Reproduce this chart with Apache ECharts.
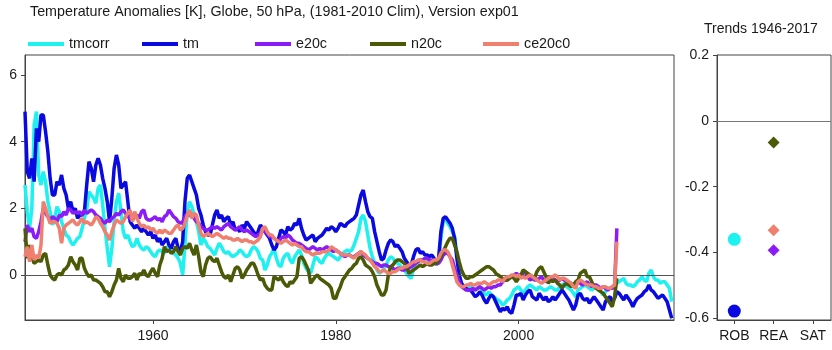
<!DOCTYPE html>
<html>
<head>
<meta charset="utf-8">
<script src="https://cdn.jsdelivr.net/npm/echarts@6/dist/echarts.min.js"></script>
<style>
html,body{margin:0;padding:0;background:#fff;}
#chart{width:832px;height:350px;}
</style>
</head>
<body>
<div id="chart"></div>
<script>
// Quarterly values starting 1946.0, step 0.25 year
const startYear = 1946;
const stepYear = 0.25;

const tmcorr = [
 2.7,1.9,1.4,2.0, 4.5,4.9,3.0,2.7, 3.1,2.8,2.2,1.9, 1.5,1.7,2.05,1.9, 1.6,1.4,1.2,1.15,
 1.0,0.9,1.0,1.1, 1.15,1.4,1.7,1.95, 2.5,2.4,2.3,2.15, 2.6,2.7,2.1,1.4, 0.8,0.25,0.8,1.6,
 2.2,2.45,1.9,1.3, 1.1,1.2,1.0,0.85, 0.9,1.1,0.9,0.8, 0.75,0.85,0.8,0.7, 0.6,0.55,0.7,0.75,
 0.7,0.65,0.8,0.9, 0.8,0.65,0.6,0.5, 0.35,0.0,0.9,1.9, 2.2,2.05,1.8,1.6, 1.3,0.9,1.1,1.0,
 0.85,0.8,0.7,0.6, 0.8,0.95,0.85,0.7, 0.65,0.7,0.6,0.55, 0.6,0.65,0.75,0.7, 0.6,0.55,0.6,0.75,
 0.85,0.8,0.7,0.5, 0.45,0.15,0.3,0.55, 0.65,0.8,0.5,0.3, 0.25,0.5,0.6,0.65, 0.45,0.35,0.55,0.65,
 0.75,0.6,0.35,0.2, 0.1,0.05,0.3,0.55, 0.5,0.4,0.35,0.5, 0.6,0.65,0.6,0.55, 0.5,0.45,0.55,0.65,
 0.7,0.75,0.7,0.75, 0.9,1.1,1.3,1.7, 1.8,1.6,1.2,0.8, 0.55,0.35,0.15,0.05, 0.1,0.2,0.3,0.45,
 0.55,0.5,0.4,0.35, 0.3,0.2,0.15,0.05, -0.05,-0.1,0.2,0.35, 0.4,0.45,0.45,0.5, 0.5,0.4,0.35,0.4,
 0.35,0.45,1.1,1.6, 1.7,1.55,1.45,1.3, 1.15,0.6,0.0,-0.25, -0.35,-0.45,-0.4,-0.35, -0.4,-0.45,-0.4,-0.35,
 -0.5,-0.55,-0.6,-0.5, -0.6,-0.65,-0.7,-0.75, -0.8,-0.9,-0.85,-0.75, -0.7,-0.6,-0.45,-0.4,
 -0.35,-0.45,-0.55,-0.45, -0.35,-0.3,-0.35,-0.4, -0.45,-0.35,-0.4,-0.45, -0.45,-0.4,-0.35,-0.4,
 -0.45,-0.45,-0.35,-0.3, -0.25,-0.35,-0.4,-0.45, -0.55,-0.65,-0.45,-0.4, -0.35,-0.3,-0.35,-0.4,
 -0.45,-0.4,-0.35,-0.45, -0.5,-0.6,-0.5,-0.4, -0.4,-0.35,-0.3,-0.25, -0.2,-0.15,-0.1,-0.25,
 -0.3,-0.3,-0.35,-0.3, -0.2,-0.15,-0.05,-0.15, -0.2,0.05,0.15,-0.05, -0.15,-0.15,-0.25,-0.2,
 -0.2,-0.3,-0.4,-0.8
];

const tm = [
 4.9,3.1,2.9,3.5, 2.8,4.4,4.0,4.8, 4.8,4.3,3.7,2.9, 2.4,2.4,2.8,2.7, 3.0,2.6,2.4,2.0,
 2.2,1.9,2.0,1.7, 1.8,1.8,1.9,2.7, 3.4,3.2,2.8,3.3, 3.5,3.3,2.9,2.6, 2.2,1.6,2.3,3.2,
 3.6,3.3,2.6,2.7, 2.8,2.2,1.6,1.5, 1.4,1.5,1.4,1.3, 1.4,1.3,1.2,1.3, 1.1,1.2,1.0,1.1,
 0.9,1.0,1.1,0.9, 0.8,1.0,1.1,0.8, 0.7,1.0,2.2,2.9, 3.0,2.8,2.6,2.4, 2.0,1.8,1.5,1.3,
 1.2,1.2,1.5,1.8, 1.95,1.7,1.8,1.6, 1.7,1.75,1.5,1.6, 1.35,1.4,1.3,1.5, 1.4,1.6,1.5,1.4,
 1.3,1.2,1.3,1.5, 1.4,1.3,1.2,1.1, 0.9,0.75,0.85,1.1, 1.35,1.3,1.2,1.45, 1.35,1.4,1.55,1.5,
 1.7,1.4,1.2,1.05, 1.1,1.15,1.2,1.0, 1.1,1.15,1.2,1.3, 1.4,1.35,1.45,1.4, 1.3,1.4,1.55,1.5,
 1.45,1.55,1.6,1.65, 1.7,1.8,2.1,2.4, 2.55,2.2,1.9,1.75, 1.7,1.3,1.0,0.7, 0.45,0.5,0.75,0.95,
 1.05,1.0,0.85,0.9, 0.8,0.7,0.5,0.4, 0.3,0.3,0.55,0.75, 0.8,0.65,0.7,0.6, 0.6,0.55,0.6,0.5,
 0.3,0.5,1.3,1.7, 1.75,1.65,1.55,1.4, 1.1,0.5,0.0,-0.25, -0.35,-0.4,-0.45,-0.45, -0.55,-0.65,-0.6,-0.5,
 -0.6,-0.75,-0.85,-0.7, -0.6,-0.65,-0.8,-0.95, -1.1,-1.0,-1.05,-0.95, -1.1,-1.15,-0.9,-0.6,
 -0.6,-0.55,-0.75,-0.6, -0.5,-0.45,-0.65,-0.7, -0.75,-0.55,-0.65,-0.75, -0.65,-0.8,-0.75,-0.65,
 -0.75,-0.65,-0.55,-0.45, -0.55,-0.65,-0.75,-0.9, -1.05,-0.9,-0.6,-0.55, -0.7,-0.75,-0.7,-0.85,
 -0.75,-0.65,-0.75,-0.85, -0.95,-1.05,-0.8,-0.7, -0.65,-0.8,-0.7,-0.5, -0.55,-0.65,-0.75,-0.6,
 -0.7,-0.8,-0.95,-0.8, -0.7,-0.65,-0.6,-0.5, -0.45,-0.3,-0.45,-0.5, -0.6,-0.7,-0.65,-0.6,
 -0.7,-0.8,-1.05,-1.3
];

const e20c = [
 1.0,1.5,1.3,1.4, 1.15,1.1,1.3,1.6, 2.0,1.85,1.75,1.65, 1.75,1.7,1.6,1.8, 1.75,1.9,1.8,2.0,
 1.95,1.85,1.9,1.85, 1.9,1.8,1.95,1.85, 1.9,1.95,1.9,1.8, 1.75,1.7,1.6,1.55, 1.65,1.6,1.7,1.75,
 1.85,1.8,1.9,1.95, 1.85,1.75,1.7,1.65, 1.75,1.8,1.7,1.9, 1.95,1.7,1.65,1.65, 1.7,1.75,1.65,1.7,
 1.6,1.75,1.8,1.95, 1.85,1.75,1.7,1.6, 1.55,1.6,1.75,1.85, 1.8,1.75,1.7,1.6, 1.55,1.45,1.4,1.35,
 1.35,1.4,1.45,1.4, 1.45,1.4,1.35,1.45, 1.5,1.55,1.45,1.4, 1.35,1.4,1.45,1.35, 1.3,1.35,1.3,1.25,
 1.2,1.15,1.2,1.25, 1.4,1.3,1.25,1.15, 1.15,1.1,1.05,1.0, 1.1,1.15,1.1,1.2, 1.15,1.05,1.0,0.95,
 0.95,0.9,0.85,0.8, 0.75,0.8,0.85,0.8, 0.75,0.8,0.75,0.8, 0.85,0.8,0.75,0.7, 0.75,0.7,0.65,0.6,
 0.55,0.6,0.6,0.55, 0.55,0.6,0.65,0.7, 0.6,0.55,0.5,0.45, 0.4,0.35,0.35,0.3, 0.25,0.3,0.3,0.25,
 0.25,0.2,0.15,0.2, 0.2,0.15,0.15,0.2, 0.2,0.25,0.3,0.35, 0.4,0.45,0.45,0.5, 0.5,0.45,0.45,0.4,
 0.35,0.35,0.45,0.6, 0.65,0.65,0.55,0.45, 0.2,0.0,-0.2,-0.35, -0.4,-0.45,-0.45,-0.45, -0.4,-0.45,-0.4,-0.35,
 -0.4,-0.45,-0.4,-0.35, -0.4,-0.35,-0.35,-0.3, -0.3,-0.2,-0.15,-0.15, -0.1,-0.05,0.0,0.05,
 0.0,-0.05,0.05,0.1, -0.05,-0.15,-0.1,-0.15, -0.15,-0.1,-0.05,-0.15, -0.2,-0.1,-0.05,-0.1,
 -0.15,-0.2,-0.15,-0.1, -0.15,-0.2,-0.25,-0.25, -0.3,-0.25,-0.2,-0.25, -0.3,-0.25,-0.2,-0.3,
 -0.35,-0.3,-0.3,-0.35, -0.4,-0.35,-0.4,-0.45, -0.4,-0.4,-0.35,1.4
];

const n20c = [
 1.4,0.5,0.9,0.55, 0.35,0.4,0.45,0.4, 0.6,0.65,0.3,0.0, -0.1,-0.15,0.0,0.05, 0.0,0.15,0.2,0.3,
 0.55,0.4,0.3,0.15, 0.5,0.5,0.2,0.05, -0.05,0.0,-0.15,-0.15, -0.2,-0.25,-0.35,-0.5, -0.5,-0.65,-0.5,-0.3,
 -0.15,0.2,-0.1,-0.2, 0.0,-0.1,-0.1,-0.05, 0.05,-0.15,0.05,0.0, 0.15,0.0,-0.05,0.1, 0.2,0.05,-0.05,0.3,
 0.5,0.85,0.7,0.75, 0.65,0.7,0.85,0.7, 0.6,0.8,0.85,0.8, 0.95,0.75,0.6,0.9, 0.55,0.1,-0.05,0.3,
 0.5,0.55,0.45,0.4, 0.5,0.3,0.1,-0.05, -0.1,0.0,-0.2,0.0, 0.2,0.25,0.15,-0.1, 0.0,0.15,0.25,0.35,
 0.35,0.2,0.0,-0.15, -0.1,-0.3,-0.4,-0.45, -0.45,-0.05,-0.1,-0.15, -0.05,-0.2,-0.3,-0.35, -0.2,-0.25,-0.15,-0.05,
 0.5,0.55,0.45,0.3, 0.15,-0.25,-0.15,-0.05, 0.0,-0.1,-0.15,-0.2, -0.25,-0.3,-0.4,-0.7, -0.7,-0.5,-0.35,-0.15,
 -0.05,0.05,0.15,0.2, 0.3,0.35,0.5,0.55, 0.45,0.3,0.25,0.2, 0.1,-0.05,-0.3,-0.45, -0.6,-0.6,-0.45,0.0,
 0.25,0.3,0.4,0.45, 0.45,0.4,0.35,0.25, 0.05,0.1,0.15,0.2, 0.25,0.3,0.25,0.3, 0.35,0.3,0.3,0.35,
 0.35,0.45,0.55,0.7, 0.85,1.0,1.1,1.1, 0.9,0.7,0.4,0.15, 0.0,-0.1,-0.1,-0.05, -0.05,0.0,0.05,0.1,
 0.15,0.2,0.25,0.25, 0.2,0.15,0.05,0.0, -0.05,-0.1,-0.15,-0.15, -0.1,-0.05,-0.1,-0.2,
 -0.1,0.0,0.15,0.1, 0.05,0.0,-0.05,-0.1, 0.1,0.2,0.25,0.1, -0.05,-0.25,-0.15,-0.2,
 -0.15,-0.25,-0.3,-0.4, -0.3,-0.25,-0.3,-0.35, -0.3,-0.2,-0.15,0.05, 0.1,0.15,-0.05,-0.05,
 -0.2,-0.35,-0.4,-0.45, -0.5,-0.55,-0.65,-0.75, -0.85,-0.95,-0.65,-0.1
];

const ce20c0 = [
 0.55,0.85,0.4,0.9, 0.45,0.6,0.5,0.9, 2.2,2.0,1.75,1.55, 1.6,1.6,1.55,1.4, 0.95,1.4,1.5,1.55,
 1.6,1.65,1.55,1.5, 1.6,1.7,1.55,1.6, 1.55,1.5,1.6,1.75, 1.7,1.55,1.45,1.3, 1.2,1.05,1.3,1.5,
 1.65,1.6,1.55,1.6, 1.75,1.85,1.95,1.6, 1.9,1.7,1.55,1.45, 1.5,1.4,1.45,1.35, 1.4,1.3,1.25,1.35,
 1.25,1.35,1.3,1.25, 1.25,1.35,1.45,1.5, 1.35,1.4,1.55,1.8, 1.95,1.7,1.85,1.8, 1.5,1.25,1.15,1.2,
 1.25,1.2,1.15,1.2, 1.25,1.2,1.15,1.1, 1.15,1.1,1.1,1.05, 1.05,1.1,1.05,1.0, 1.05,1.05,1.0,1.0,
 0.95,1.0,1.05,1.15, 1.4,1.45,1.3,1.2, 1.2,1.1,1.05,1.0, 0.95,1.0,1.05,1.0, 0.95,0.9,0.95,0.9,
 0.85,0.85,0.75,0.7, 0.7,0.65,0.6,0.65, 0.65,0.65,0.7,0.7, 0.7,0.75,0.85,0.8, 0.75,0.7,0.65,0.6,
 0.6,0.6,0.6,0.55, 0.5,0.6,0.65,0.7, 0.65,0.6,0.5,0.45, 0.35,0.25,0.2,0.1, 0.1,0.15,0.1,0.05,
 0.05,0.1,0.1,0.15, 0.2,0.2,0.25,0.25, 0.3,0.35,0.4,0.4, 0.45,0.45,0.4,0.4, 0.35,0.35,0.4,0.45,
 0.45,0.5,0.65,0.75, 0.75,0.7,0.55,0.3, 0.05,-0.2,-0.3,-0.35, -0.35,-0.3,-0.3,-0.25, -0.3,-0.3,-0.25,-0.25,
 -0.25,-0.2,-0.25,-0.3, -0.25,-0.2,-0.2,-0.15, -0.15,-0.2,-0.1,-0.05, -0.05,0.0,0.0,-0.05,
 0.0,-0.1,-0.05,-0.1, -0.05,0.0,-0.05,-0.1, -0.15,-0.2,-0.25,-0.2, -0.15,-0.1,-0.05,-0.05,
 0.0,-0.05,-0.15,-0.1, -0.1,-0.15,-0.2,-0.25, -0.35,-0.4,-0.2,-0.15, -0.2,-0.25,-0.3,-0.3,
 -0.3,-0.35,-0.35,-0.4, -0.4,-0.35,-0.35,-0.4, -0.4,-0.35,-0.3,1.0
];

const seriesNames = ['tmcorr','tm','e20c','n20c','ce20c0'];
const seriesColors = ['#1ff0f0','#0a0ae0','#8a1cf5','#4b5a06','#ef8070'];
const yTicks = [0,2,4,6];
const xTicks = [1960,1980,2000];

// Trends 1946-2017 panel
const trendCategories = ['ROB','REA','SAT'];
const trendSeries = ['tmcorr','tm','e20c','n20c','ce20c0'];
const trendCategory = ['ROB','ROB','REA','REA','REA'];
const trendValues = [-0.36,-0.578,-0.393,-0.066,-0.332];
const trendTicks = [-0.6,-0.4,-0.2,0,0.2];

const FONT = '"Liberation Sans", Arial, sans-serif';
const seriesData = [tmcorr, tm, e20c, n20c, ce20c0];

const chart = echarts.init(document.getElementById('chart'), null, {renderer:'canvas'});

const lineSeries = seriesData.map((arr, k) => ({
  name: seriesNames[k],
  type: 'line',
  xAxisIndex: 0, yAxisIndex: 0,
  data: arr.map((v, i) => [startYear + i * stepYear, v]),
  showSymbol: false, symbol: 'none',
  lineStyle: {width: 3.5, color: seriesColors[k]},
  itemStyle: {color: seriesColors[k]},
  clip: true,
  animation: false,
  z: 2 + k
}));
lineSeries[lineSeries.length - 1].markLine = {
  silent: true, symbol: ['none','none'], label: {show: false},
  lineStyle: {color: '#555', width: 1, type: 'solid'},
  data: [{yAxis: 0}], animation: false
};

const trendScatter = trendSeries.map((name, k) => {
  const ci = seriesNames.indexOf(name);
  const isRob = trendCategory[k] === 'ROB';
  return {
    name: name + ' trend',
    type: 'scatter',
    xAxisIndex: 1, yAxisIndex: 1,
    symbol: isRob ? 'circle' : 'diamond',
    symbolSize: isRob ? 13 : 12,
    itemStyle: {color: seriesColors[ci], opacity: 1},
    data: [[trendCategories.indexOf(trendCategory[k]) + 1, trendValues[k]]],
    animation: false, z: 5
  };
});
trendScatter[0].markLine = {
  silent: true, symbol: ['none','none'], label: {show: false},
  lineStyle: {color: '#777', width: 1, type: 'solid'},
  data: [{yAxis: 0}], animation: false
};

const legendLefts = [28, 142, 255, 370, 483];
const legends = seriesNames.map((n, k) => ({
  data: [{name: n, icon: 'rect'}],
  left: legendLefts[k], top: 37, padding: 0,
  itemWidth: 36, itemHeight: 4, itemGap: 5,
  textStyle: {fontSize: 14.3, color: '#1a1a1a', fontFamily: FONT},
  selectedMode: false
}));

const axisLineStyle = {color: '#444', width: 1};

const option = {
  backgroundColor: '#fff',
  animation: false,
  textStyle: {fontFamily: FONT},
  title: [
    {text: 'Temperature Anomalies [K], Globe, 50 hPa, (1981-2010 Clim), Version exp01',
     left: 30, top: 5, padding: 0,
     textStyle: {fontSize: 14.3, fontWeight: 'normal', color: '#1a1a1a', fontFamily: FONT}},
    {text: 'Trends 1946-2017', left: 704, top: 22, padding: 0,
     textStyle: {fontSize: 14, fontWeight: 'normal', color: '#1a1a1a', fontFamily: FONT}}
  ],
  legend: legends,
  grid: [
    {left: 25, top: 55, right: 158, bottom: 30, show: true, borderColor: '#444', borderWidth: 1, backgroundColor: 'transparent'},
    {left: 717, top: 55, right: 1, bottom: 30, show: true, borderColor: '#444', borderWidth: 1, backgroundColor: 'transparent'}
  ],
  xAxis: [
    {type: 'value', gridIndex: 0, min: 1946, max: 2017,
     splitLine: {show: false},
     axisLine: {show: true, onZero: false, lineStyle: axisLineStyle},
     axisTick: {show: true, length: 4, customValues: xTicks, lineStyle: axisLineStyle},
     axisLabel: {customValues: xTicks, fontSize: 14, color: '#1a1a1a', margin: 9, fontFamily: FONT,
                 formatter: v => String(v)}},
    {type: 'value', gridIndex: 1, min: 0.56, max: 3.46,
     splitLine: {show: false},
     axisLine: {show: true, onZero: false, lineStyle: axisLineStyle},
     axisTick: {show: true, length: 4, customValues: [1,2,3], lineStyle: axisLineStyle},
     axisLabel: {customValues: [1,2,3], fontSize: 14, color: '#1a1a1a', margin: 9, fontFamily: FONT,
                 formatter: v => trendCategories[Math.round(v) - 1] || ''}}
  ],
  yAxis: [
    {type: 'value', gridIndex: 0, min: -1.35, max: 6.6,
     splitLine: {show: false},
     axisLine: {show: true, onZero: false, lineStyle: axisLineStyle},
     axisTick: {show: true, length: 4, customValues: yTicks, lineStyle: axisLineStyle},
     axisLabel: {customValues: yTicks, fontSize: 14, color: '#1a1a1a', margin: 8, fontFamily: FONT,
                 formatter: v => String(v)}},
    {type: 'value', gridIndex: 1, min: -0.605, max: 0.2,
     splitLine: {show: false},
     axisLine: {show: true, onZero: false, lineStyle: axisLineStyle},
     axisTick: {show: true, length: 4, customValues: trendTicks, lineStyle: axisLineStyle},
     axisLabel: {customValues: trendTicks, fontSize: 14, color: '#1a1a1a', margin: 8, fontFamily: FONT,
                 formatter: v => String(Math.round(v * 10) / 10)}}
  ],
  series: lineSeries.concat(trendScatter)
};
chart.setOption(option);
</script>
</body>
</html>
